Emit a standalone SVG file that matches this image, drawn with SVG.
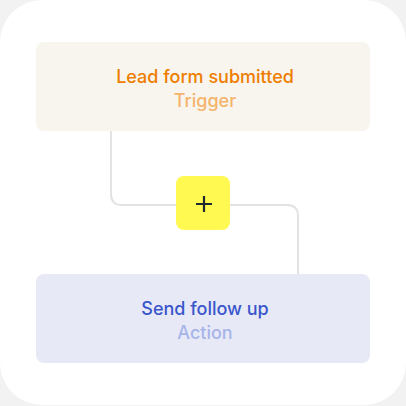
<svg xmlns="http://www.w3.org/2000/svg" width="406" height="406" viewBox="0 0 406 406">
<style>
.t1{font-family:Inter,"Noto Sans",sans-serif;font-size:18px;font-weight:500;text-anchor:middle}
.conn{fill:none;stroke:#e3e3e3;stroke-width:2}
</style>
<rect x="0" y="0" width="406" height="406" fill="#f2f2f2"/>
<rect x="0" y="0" width="406" height="405" rx="42" fill="#ffffff"/>
<g id="connectors">
<path class="conn" d="M111 131 V194 Q111 205 122 205 H177"/>
<path class="conn" d="M229 205 H287 Q298 205 298 216 V274"/>
</g>
<g id="trigger">
<rect x="36" y="42" width="334" height="89" rx="8" fill="#f8f5ee"/>
<text class="t1" x="205" y="83" fill="#ee7d00">Lead form submitted</text>
<text class="t1" x="205" y="107" fill="#f4b46c">Trigger</text>
</g>
<g id="add">
<rect x="176" y="176" width="54" height="54" rx="8" fill="#fff952"/>
<path d="M196 204 H212 M204 196 V212" stroke="#1e2a2e" stroke-width="2.2"/>
</g>
<g id="action">
<rect x="36" y="274" width="334" height="89" rx="8" fill="#e7eaf6"/>
<text class="t1" x="205" y="315" fill="#3a56cc">Send follow up</text>
<text class="t1" x="205" y="339" fill="#a7b4ea">Action</text>
</g>
</svg>
